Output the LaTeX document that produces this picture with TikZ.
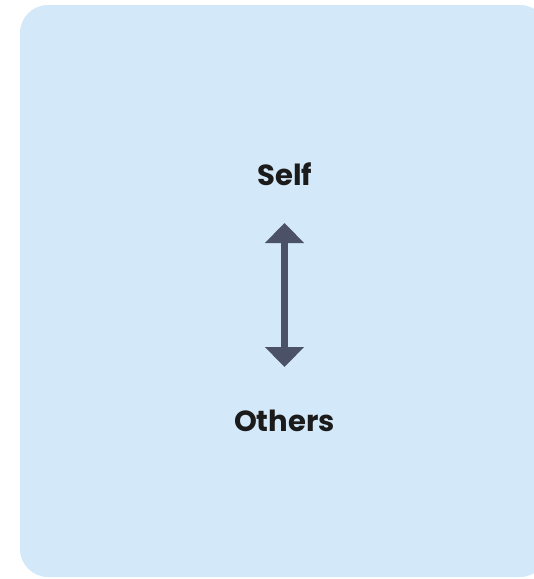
\documentclass[tikz,border=0pt]{standalone}
\usepackage{fontspec}
\setmainfont{Poppins}
\usetikzlibrary{arrows.meta}
\definecolor{panel}{HTML}{D3E8F8}
\definecolor{arrowc}{HTML}{4B5166}
\definecolor{txt}{HTML}{1B1B1B}
\tikzset{
  label/.style={font=\fontsize{21.8}{26}\selectfont\bfseries, text=txt, anchor=base, inner sep=0pt},
  link/.style={draw=arrowc, line width=5.25pt, {Triangle[width=28.5pt,length=15pt]}-{Triangle[width=28.5pt,length=15pt]}}
}
\begin{document}
\begin{tikzpicture}[x=0.75pt,y=-0.75pt]
\useasboundingbox (0,0) rectangle (534,579);
\begin{scope}
\clip (0,0) rectangle (534,579);
\fill[panel, rounded corners=21pt] (20,5) rectangle (548,577);
\end{scope}
\node[label] (self) at (285,185.5) {Self};
\node[label] (others) at (284.5,431) {Others};
\coordinate (top) at (284.5,223);
\coordinate (bot) at (284.5,367);
\draw[link] (top) -- (bot);
\end{tikzpicture}
\end{document}
